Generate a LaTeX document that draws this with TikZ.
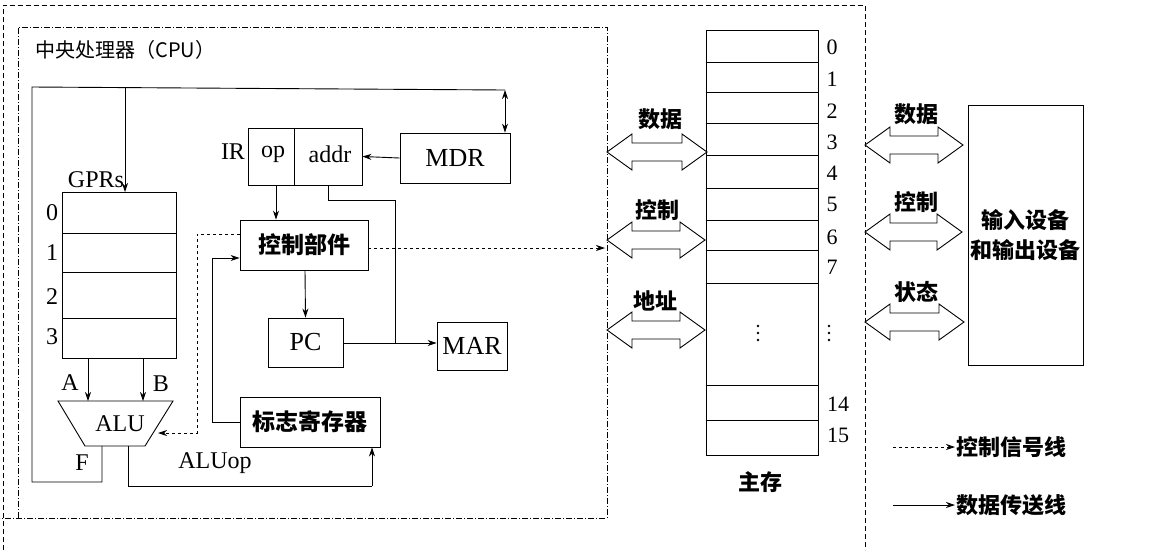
\documentclass[tikz,border=0pt]{standalone}
\usepackage{fontspec}
\setmainfont{Liberation Serif}
\newfontfamily\cjk{Noto Sans CJK SC}
\usetikzlibrary{arrows.meta}
\tikzset{
  arr/.style={-{Stealth[length=9pt,width=6pt]}, line width=0.9pt},
  bx/.style={draw, line width=0.9pt, inner sep=0pt, font=\fontsize{26}{28}\selectfont},
  cbx/.style={bx, font=\cjk\fontsize{23}{25}\selectfont\bfseries},
  lbl/.style={font=\fontsize{24}{26}\selectfont, inner sep=0pt},
  clbl/.style={font=\cjk\fontsize{22}{24}\selectfont\bfseries, inner sep=1pt},
  hollow/.style={draw, line width=0.9pt, fill=white},
  bnd/.style={dash pattern=on 5pt off 3pt, line width=0.6pt},
}
\newcommand\hollowarrow[3]{% x1 x2 y
  \draw[hollow] (#1,#3) -- ++(25,-18) -- ++(0,9) -- (#2-25,#3-9) -- ++(0,-9) -- (#2,#3)
    -- ++(-25,18) -- ++(0,-9) -- (#1+25,#3+9) -- ++(0,9) -- cycle;}
\newcommand\vdotsat[2]{\foreach \d in {-7,0,7} \fill (#1,#2+\d) circle (1.3pt);}
\begin{document}
\begin{tikzpicture}[x=1pt,y=-1pt]
\useasboundingbox (0,0) rectangle (1150,550);
\fill[white] (0,0) rectangle (1150,550);
% boundaries
\draw[bnd] (3,550) -- (3,5) -- (865,5) -- (865,550);
\draw[dash pattern=on 6pt off 2pt on 1pt off 2pt, line width=0.6pt] (18,518) -- (18,27) -- (607,27) -- (607,518) -- (0,518);
\node[anchor=west, font=\cjk\fontsize{20}{22}\selectfont] (title) at (32,50) {中央处理器（CPU）};
% boxes
\node[bx, minimum width=114pt, minimum height=166pt] (gpr) at (119,275) {};
\foreach \yy in {233,272,318} \draw[line width=0.9pt] (62,\yy) -- (176,\yy);
\node[lbl] (g0) at (52,213) {0};
\node[lbl] (g1) at (52,253) {1};
\node[lbl] (g2) at (52,297) {2};
\node[lbl] (g3) at (52,337) {3};
\node[lbl] (gprs) at (96,180) {GPRs};
\draw[line width=0.9pt] (58,401) -- (173,401) -- (145,446) -- (85,446) -- cycle;
\node[lbl] (alu) at (120,424) {ALU};
\node[cbx, minimum width=140pt, minimum height=50pt] (flag) at (310,422) {标志寄存器};
\node[cbx, minimum width=128pt, minimum height=50pt] (ctrl) at (304,245) {控制部件};
\node[bx, minimum width=114pt, minimum height=57pt] (ir) at (305,156.5) {};
\draw[line width=0.9pt] (294,128) -- (294,185);
\node[lbl] (op) at (273,154) {op};
\node[lbl] (addr) at (330,154) {addr};
\node[lbl] (irl) at (233,152) {IR};
\node[bx, minimum width=110pt, minimum height=50pt] (mdr) at (455,158) {MDR};
\node[bx, minimum width=75pt, minimum height=49pt] (pc) at (305.5,342.5) {PC};
\node[bx, minimum width=70pt, minimum height=48pt] (mar) at (472,346) {MAR};
% GPR/ALU
\node[lbl] (la) at (70,383) {A};
\node[lbl] (lb) at (161,384) {B};
\draw[arr] (88,358) -- (88,401);
\draw[arr] (143,358) -- (143,401);
\node[lbl] (lf) at (82,463) {F};
\node[lbl] (laluop) at (215,463) {ALUop};
% bus
\draw[line width=0.9pt] (102,446) -- (102,482) -- (32,482) -- (32,87) -- (505,90);
\draw[arr] (125,87.5) -- (125,192);
\draw[{Stealth[length=9pt,width=6pt]}-{Stealth[length=9pt,width=6pt]}, line width=0.9pt] (505,90) -- (mdr.north -| 505,0);
\draw[line width=0.9pt] (128,446) -- (128,486) -- (372,486);
\draw[arr] (372,486) -- (flag.south -| 372,0);
% internal
\draw[arr] (mdr.west) -- (ir.east);
\draw[arr] (ir.south -| 276,0) -- (ctrl.north -| 276,0);
\draw[arr] (ctrl.south -| 305,0) -- (pc.north);
\draw[arr] (pc.east |- 0,343) -- (mar.west |- 0,343);
\draw[line width=0.9pt] (ir.south -| 328,0) -- (328,200) -- (395,200) -- (395,343);
\draw[arr] (flag.west) -| (212,258) -- (ctrl.west |- 0,258);
\draw[dashed, line width=0.8pt, -{Stealth[length=9pt,width=6pt]}] (ctrl.west |- 0,234) -- (197,234) -- (197,433) -- (158,433);
\draw[dashed, line width=0.8pt, -{Stealth[length=9pt,width=6pt]}] (ctrl.east |- 0,248) -- (605,248);
% memory
\node[bx, minimum width=112pt, minimum height=425pt] (mem) at (762,242.5) {};
\foreach \yy in {62,92,123,155,188,220,250,283,385,420} \draw[line width=0.9pt] (706,\yy) -- (818,\yy);
\foreach \n/\yy in {0/47,1/79,2/111,3/142,4/173,5/204,6/237,7/267} \node[lbl, font=\fontsize{22}{24}\selectfont] (m\n) at (832,\yy) {\n};
\node[lbl, font=\fontsize{22}{24}\selectfont] (m14) at (838,404) {14};
\node[lbl, font=\fontsize{22}{24}\selectfont] (m15) at (838,435) {15};
\vdotsat{829}{333}
\vdotsat{758}{333}
\node[clbl] (zc) at (760,482) {主存};
% buses
\hollowarrow{607}{707}{152}
\hollowarrow{607}{705}{240}
\hollowarrow{607}{705}{330}
\node[clbl] (bd) at (660,119) {数据};
\node[clbl] (bc) at (657,210) {控制};
\node[clbl] (ba) at (655,301) {地址};
\node[cbx, minimum width=115pt, minimum height=260pt, align=center, font=\cjk\fontsize{22}{30}\selectfont\bfseries] (io) at (1025.5,235) {输入设备\\和输出设备};
\hollowarrow{865}{963}{145}
\hollowarrow{865}{962}{232}
\hollowarrow{865}{964}{322}
\node[clbl] (id) at (916,114) {数据};
\node[clbl] (ic) at (916,202) {控制};
\node[clbl] (is) at (916,292) {状态};
% legend
\node[clbl, anchor=west] (l1) at (955,447) {控制信号线};
\node[clbl, anchor=west] (l2) at (955,505) {数据传送线};
\draw[dashed, line width=0.8pt, -{Stealth[length=9pt,width=6pt]}] (893,447) -- (l1.west);
\draw[arr] (893,505) -- (l2.west);
\end{tikzpicture}
\end{document}
